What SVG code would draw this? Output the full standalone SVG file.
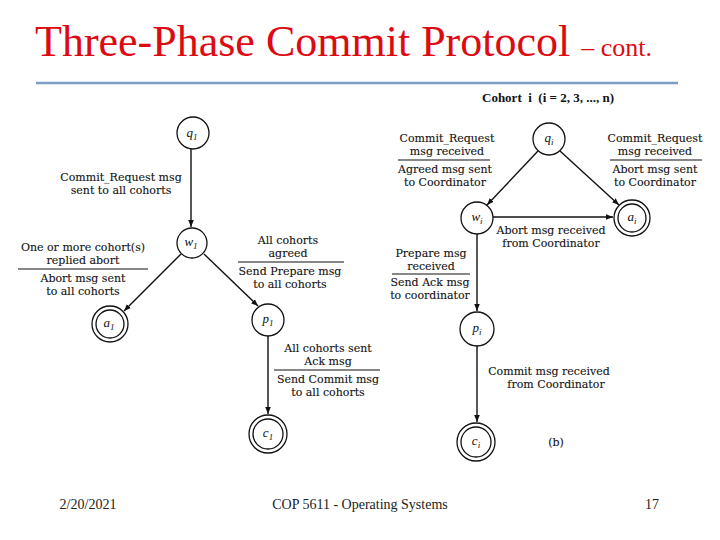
<svg xmlns="http://www.w3.org/2000/svg" width="720" height="540" viewBox="0 0 720 540">
<style>
.t{font-family:"DejaVu Serif","Liberation Serif",serif;font-size:11px;fill:#111;stroke:#111;stroke-width:0.1;text-anchor:middle}
.n{font-family:"Liberation Serif","Times New Roman",serif;font-size:13px;font-style:italic;fill:#111;text-anchor:middle}
.s{font-size:9px}
.c{fill:#fff;stroke:#111;stroke-width:1.3}
.e{stroke:#111;stroke-width:1.4;fill:none}
.bar{stroke:#111;stroke-width:1.2}
.f{font-family:"Liberation Serif","Times New Roman",serif;font-size:14px;fill:#222;text-anchor:middle}
.ttl{font-family:"Liberation Serif","Times New Roman",serif;font-size:44px;fill:#dd0a12}
.hd{font-family:"Liberation Serif","Times New Roman",serif;font-size:13px;font-weight:bold;fill:#111}
</style>
<defs>
<marker id="ah" viewBox="0 0 10 10" refX="10" refY="5" markerWidth="7" markerHeight="7" markerUnits="userSpaceOnUse" orient="auto">
<path d="M0,1 L10,5 L0,9 Z" fill="#111"/>
</marker>
</defs>
<rect width="720" height="540" fill="#fff"/>
<g id="title">
<text class="ttl" x="35" y="56">Three-Phase Commit Protocol <tspan font-size="26">– cont.</tspan></text>
<line x1="36" y1="83" x2="678" y2="83" stroke="#7b9cc4" stroke-width="2.5"/>
</g>
<g id="connectors">
<line class="e" x1="191" y1="149" x2="191" y2="227" marker-end="url(#ah)"/>
<line class="e" x1="181" y1="254" x2="124" y2="311" marker-end="url(#ah)"/>
<line class="e" x1="204" y1="254" x2="258" y2="306" marker-end="url(#ah)"/>
<line class="e" x1="268" y1="336" x2="268" y2="414" marker-end="url(#ah)"/>
<line class="e" x1="538" y1="151" x2="487" y2="205" marker-end="url(#ah)"/>
<line class="e" x1="560" y1="151" x2="619" y2="205" marker-end="url(#ah)"/>
<line class="e" x1="493" y1="217" x2="613" y2="217" marker-end="url(#ah)"/>
<line class="e" x1="477" y1="234" x2="477" y2="311" marker-end="url(#ah)"/>
<line class="e" x1="477" y1="346" x2="477" y2="422" marker-end="url(#ah)"/>
</g>
<g id="q1"><circle class="c" cx="193" cy="133" r="16"/><text class="n" x="192" y="137">q<tspan class="s" dy="3">1</tspan></text></g>
<g id="w1"><circle class="c" cx="192" cy="243" r="15"/><text class="n" x="191" y="246">w<tspan class="s" dy="3">1</tspan></text></g>
<g id="a1"><circle class="c" cx="110" cy="324" r="18"/><circle class="c" cx="110" cy="324" r="14"/><text class="n" x="109" y="327">a<tspan class="s" dy="3">1</tspan></text></g>
<g id="p1"><circle class="c" cx="268" cy="320" r="16"/><text class="n" x="268" y="323">p<tspan class="s" dy="3">1</tspan></text></g>
<g id="c1"><circle class="c" cx="268" cy="434" r="19"/><circle class="c" cx="268" cy="434" r="15"/><text class="n" x="268" y="437">c<tspan class="s" dy="3">1</tspan></text></g>
<g id="qi"><circle class="c" cx="549" cy="139" r="16"/><text class="n" x="549" y="142">q<tspan class="s" dy="3">i</tspan></text></g>
<g id="wi"><circle class="c" cx="477" cy="218" r="16"/><text class="n" x="477" y="221">w<tspan class="s" dy="3">i</tspan></text></g>
<g id="ai"><circle class="c" cx="632" cy="218" r="18"/><circle class="c" cx="632" cy="218" r="14"/><text class="n" x="632" y="221">a<tspan class="s" dy="3">i</tspan></text></g>
<g id="pi"><circle class="c" cx="477" cy="329" r="17"/><text class="n" x="477" y="332">p<tspan class="s" dy="3">i</tspan></text></g>
<g id="ci"><circle class="c" cx="476" cy="442" r="19"/><circle class="c" cx="476" cy="442" r="15"/><text class="n" x="476" y="445">c<tspan class="s" dy="3">i</tspan></text></g>
<g id="labels">
<text class="t"><tspan x="121" y="181">Commit_Request msg</tspan><tspan x="121" y="194">sent to all cohorts</tspan></text>
<text class="t"><tspan x="83" y="251">One or more cohort(s)</tspan><tspan x="83" y="264">replied abort</tspan></text>
<line class="bar" x1="18" y1="269" x2="148" y2="269"/>
<text class="t"><tspan x="83" y="282">Abort msg sent</tspan><tspan x="83" y="295">to all cohorts</tspan></text>
<text class="t"><tspan x="288" y="244">All cohorts</tspan><tspan x="288" y="257">agreed</tspan></text>
<line class="bar" x1="238" y1="262" x2="344" y2="262"/>
<text class="t"><tspan x="290" y="275">Send Prepare msg</tspan><tspan x="290" y="288">to all cohorts</tspan></text>
<text class="t"><tspan x="328" y="352">All cohorts sent</tspan><tspan x="328" y="365">Ack msg</tspan></text>
<line class="bar" x1="274" y1="370" x2="380" y2="370"/>
<text class="t"><tspan x="328" y="383">Send Commit msg</tspan><tspan x="328" y="396">to all cohorts</tspan></text>
<text class="hd" x="482" y="102" xml:space="preserve">Cohort  i  (i = 2, 3, ..., n)</text>
<text class="t"><tspan x="447" y="142">Commit_Request</tspan><tspan x="447" y="155">msg received</tspan></text>
<line class="bar" x1="398" y1="160" x2="490" y2="160"/>
<text class="t"><tspan x="445" y="173">Agreed msg sent</tspan><tspan x="445" y="186">to Coordinator</tspan></text>
<text class="t"><tspan x="655" y="142">Commit_Request</tspan><tspan x="655" y="155">msg received</tspan></text>
<line class="bar" x1="610" y1="160" x2="702" y2="160"/>
<text class="t"><tspan x="655" y="173">Abort msg sent</tspan><tspan x="655" y="186">to Coordinator</tspan></text>
<text class="t"><tspan x="551" y="234">Abort msg received</tspan><tspan x="551" y="247">from Coordinator</tspan></text>
<text class="t"><tspan x="431" y="257">Prepare msg</tspan><tspan x="431" y="270">received</tspan></text>
<line class="bar" x1="392" y1="274" x2="470" y2="274"/>
<text class="t"><tspan x="430" y="286">Send Ack msg</tspan><tspan x="430" y="299">to coordinator</tspan></text>
<text class="t"><tspan x="549" y="375">Commit msg received</tspan><tspan x="556" y="388">from Coordinator</tspan></text>
<text class="t" x="556" y="446">(b)</text>
</g>
<g id="footer">
<text class="f" x="88" y="509">2/20/2021</text>
<text class="f" x="360" y="509">COP 5611 - Operating Systems</text>
<text class="f" x="652" y="509">17</text>
</g>
</svg>
